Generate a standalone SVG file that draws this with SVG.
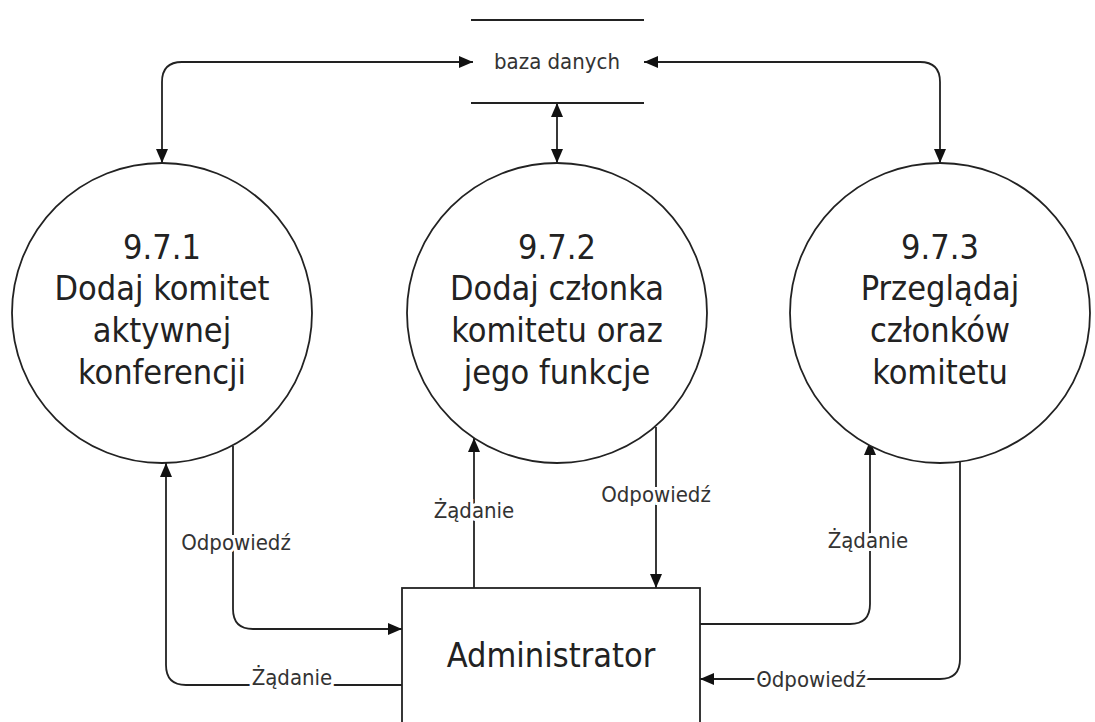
<svg xmlns="http://www.w3.org/2000/svg" width="1095" height="722" viewBox="0 0 1095 722">
<style>
.shape{fill:#fff;stroke:#222;stroke-width:1.8}
.conn{fill:none;stroke:#222;stroke-width:1.8}
.big{font-family:"DejaVu Sans Condensed","DejaVu Sans",sans-serif;font-size:34px;fill:#222;text-anchor:middle}
.lbl{font-family:"DejaVu Sans Condensed","DejaVu Sans",sans-serif;font-size:22px;fill:#333;text-anchor:middle;paint-order:stroke;stroke:#fff;stroke-width:6px}
</style>
<defs>
<marker id="arr" viewBox="0 0 14 12" refX="14" refY="6" markerWidth="14" markerHeight="12" markerUnits="userSpaceOnUse" orient="auto-start-reverse">
<path d="M0,0 L14,6 L0,12 Z" fill="#111"/>
</marker>
</defs>
<rect width="1095" height="722" fill="#fff"/>
<g id="connectors">
<path class="conn" d="M162,163 V82 Q162,62 182,62 H473" marker-start="url(#arr)" marker-end="url(#arr)"/>
<path class="conn" d="M644,62 H920 Q940,62 940,82 V163" marker-start="url(#arr)" marker-end="url(#arr)"/>
<path class="conn" d="M557,103 V163" marker-start="url(#arr)" marker-end="url(#arr)"/>
<path class="conn" d="M233,446 V609 Q233,629 253,629 H402" marker-end="url(#arr)"/>
<path class="conn" d="M402,685 H186 Q166,685 166,665 V463" marker-end="url(#arr)"/>
<path class="conn" d="M474,588 V438" marker-end="url(#arr)"/>
<path class="conn" d="M656,427 V588" marker-end="url(#arr)"/>
<path class="conn" d="M700,624 H850 Q870,624 870,604 V441" marker-end="url(#arr)"/>
<path class="conn" d="M960,462 V659 Q960,679 940,679 H700" marker-end="url(#arr)"/>
<text class="lbl" x="236" y="550">Odpowiedź</text>
<text class="lbl" x="292" y="685">Żądanie</text>
<text class="lbl" x="474" y="518">Żądanie</text>
<text class="lbl" x="656" y="502">Odpowiedź</text>
<text class="lbl" x="868" y="548">Żądanie</text>
<text class="lbl" x="811" y="687">Odpowiedź</text>
</g>
<g id="store">
<line class="conn" x1="471" y1="20" x2="644" y2="20"/>
<line class="conn" x1="471" y1="103" x2="644" y2="103"/>
<text class="lbl" x="557" y="69" style="stroke:none">baza danych</text>
</g>
<g id="p971">
<circle class="shape" cx="162" cy="313" r="150"/>
<text class="big" x="162" y="259">9.7.1</text>
<text class="big" x="162" y="300">Dodaj komitet</text>
<text class="big" x="162" y="342">aktywnej</text>
<text class="big" x="162" y="384">konferencji</text>
</g>
<g id="p972">
<circle class="shape" cx="557" cy="313" r="150"/>
<text class="big" x="557" y="259">9.7.2</text>
<text class="big" x="557" y="300">Dodaj członka</text>
<text class="big" x="557" y="342">komitetu oraz</text>
<text class="big" x="557" y="384">jego funkcje</text>
</g>
<g id="p973">
<circle class="shape" cx="940" cy="313" r="150"/>
<text class="big" x="940" y="259">9.7.3</text>
<text class="big" x="940" y="300">Przeglądaj</text>
<text class="big" x="940" y="342">członków</text>
<text class="big" x="940" y="384">komitetu</text>
</g>
<g id="admin">
<rect class="shape" x="402" y="588" width="298" height="150"/>
<text class="big" x="551" y="667">Administrator</text>
</g>
</svg>
